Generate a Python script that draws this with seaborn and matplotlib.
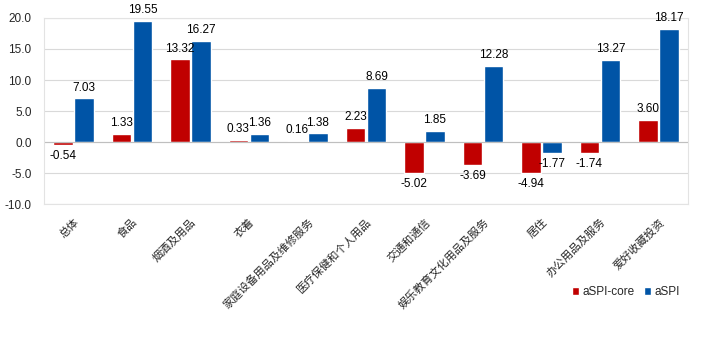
import matplotlib
matplotlib.use("Agg")
import matplotlib.pyplot as plt
import seaborn as sns
import pandas as pd

categories = ["总体", "食品", "烟酒及用品", "衣着", "家庭设备用品及维修服务", "医疗保健和个人用品",
              "交通和通信", "娱乐教育文化用品及服务", "居住", "办公用品及服务", "爱好收藏投资"]
aspi_core = [-0.54, 1.33, 13.32, 0.33, 0.16, 2.23, -5.02, -3.69, -4.94, -1.74, 3.60]
aspi = [7.03, 19.55, 16.27, 1.36, 1.38, 8.69, 1.85, 12.28, -1.77, 13.27, 18.17]
series_names = ["aSPI-core", "aSPI"]
yticks = [-10, -5, 0, 5, 10, 15, 20]

df = pd.DataFrame({
    "cat": categories * 2,
    "val": aspi_core + aspi,
    "series": [series_names[0]] * len(categories) + [series_names[1]] * len(categories),
})

sns.set_theme(style="white")
plt.rcParams['font.family'] = ['Liberation Sans', 'Noto Sans CJK SC', 'DejaVu Sans']

fig = plt.figure(figsize=(7.01, 3.39), dpi=100)
ax = fig.add_axes([0.063, 0.398, 0.918, 0.549])

palette = {"aSPI-core": "#C00000", "aSPI": "#0054A6"}
sns.barplot(data=df, x="cat", y="val", hue="series", palette=palette, ax=ax,
            width=0.72, gap=0.08, saturation=1, legend=True)

for c in ax.containers:
    ax.bar_label(c, fmt="%.2f", padding=3.5, fontsize=8.5, color="#000000")

ax.set_ylim(-10, 20)
ax.set_yticks(yticks)
ax.set_yticklabels([f"{v:.1f}" for v in yticks], fontsize=8.5)
ax.set_xlabel("")
ax.set_ylabel("")
ax.yaxis.grid(True, color="#D9D9D9", linewidth=0.8)
ax.set_axisbelow(True)
ax.axhline(0, color="#BFBFBF", linewidth=0.8, zorder=1)
for s in ax.spines.values():
    s.set_color("#E3E3E3")
    s.set_linewidth(0.8)
ax.tick_params(axis="both", length=0)
ax.tick_params(axis="y", pad=9)
ax.set_xticks(range(len(categories)))
ax.set_xticklabels(categories, rotation=45, ha="right", rotation_mode="anchor",
                   fontsize=8, family=['Noto Sans CJK SC', 'DejaVu Sans'])
ax.tick_params(axis="x", pad=9)

leg = ax.legend(loc="center right", bbox_to_anchor=(0.985, 0.138), bbox_transform=fig.transFigure,
                ncol=2, frameon=False, fontsize=8.5, handlelength=0.6, handleheight=0.6,
                handletextpad=0.3, columnspacing=0.8)

fig.savefig("out.png", dpi=100)
